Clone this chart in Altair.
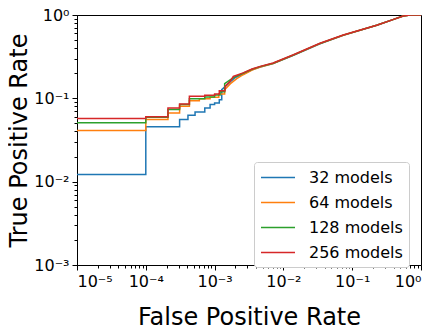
import altair as alt
import pandas as pd

models = ["32 models", "64 models", "128 models", "256 models"]
colors = ["#1f77b4", "#ff7f0e", "#2ca02c", "#d62728"]

fpr_32 = [1e-5, 1.0e-4, 1.0e-4, 3.1e-4, 3.1e-4, 4.1e-4, 4.1e-4, 5.2e-4, 5.2e-4, 7.2e-4, 7.2e-4,
          8.6e-4, 8.6e-4, 1.0e-3, 1.0e-3, 1.17e-3, 1.17e-3, 1.27e-3, 1.27e-3, 1.45e-3, 1.7e-3,
          2.0e-3, 2.6e-3, 3.5e-3, 4.6e-3, 7.1e-3, 1.4e-2, 3.4e-2, 7.4e-2, 0.227, 0.40, 0.55, 0.70, 1.0]
tpr_32 = [0.0122, 0.0122, 0.0456, 0.0456, 0.0557, 0.0557, 0.0628, 0.0628, 0.0687, 0.0687, 0.0767,
          0.0767, 0.0841, 0.0841, 0.0879, 0.0879, 0.0964, 0.0964, 0.127, 0.140, 0.158,
          0.178, 0.196, 0.220, 0.238, 0.262, 0.328, 0.452, 0.570, 0.752, 0.887, 0.97, 1.0, 1.0]

fpr_64 = [1e-5, 1e-4, 1e-4, 2.1e-4, 2.1e-4, 3.1e-4, 3.1e-4, 4.3e-4, 4.3e-4, 6.0e-4, 6.0e-4,
          8.6e-4, 8.6e-4, 1.15e-3, 1.15e-3, 1.4e-3, 1.4e-3, 1.7e-3, 2.1e-3, 2.6e-3, 3.5e-3,
          4.6e-3, 7.1e-3, 1.4e-2, 3.4e-2, 7.4e-2, 0.227, 0.40, 0.55, 0.70, 1.0]
tpr_64 = [0.0412, 0.0412, 0.0557, 0.0557, 0.0668, 0.0668, 0.0803, 0.0803, 0.0937, 0.0937, 0.099,
          0.099, 0.103, 0.103, 0.113, 0.113, 0.127, 0.150, 0.172, 0.192, 0.218,
          0.238, 0.262, 0.33, 0.454, 0.572, 0.753, 0.887, 0.97, 1.0, 1.0]

fpr_128 = [1e-5, 1e-4, 1e-4, 2.1e-4, 2.1e-4, 3.1e-4, 3.1e-4, 4.3e-4, 4.3e-4, 7.2e-4, 7.2e-4,
           1.0e-3, 1.0e-3, 1.2e-3, 1.2e-3, 1.4e-3, 1.4e-3, 1.7e-3, 2.0e-3, 2.6e-3, 3.5e-3,
           4.6e-3, 7.1e-3, 1.4e-2, 3.4e-2, 7.4e-2, 0.227, 0.40, 0.55, 0.70, 1.0]
tpr_128 = [0.0508, 0.0508, 0.0594, 0.0594, 0.0733, 0.0733, 0.0841, 0.0841, 0.099, 0.099, 0.104,
           0.104, 0.110, 0.110, 0.120, 0.120, 0.150, 0.168, 0.182, 0.200, 0.223,
           0.240, 0.264, 0.331, 0.456, 0.573, 0.754, 0.887, 0.97, 1.0, 1.0]

fpr_256 = [1e-5, 1e-4, 1e-4, 2.1e-4, 2.1e-4, 3.1e-4, 3.1e-4, 4.3e-4, 4.3e-4, 7.2e-4, 7.2e-4,
           1.0e-3, 1.0e-3, 1.17e-3, 1.17e-3, 1.42e-3, 1.42e-3, 1.67e-3, 1.87e-3, 2.6e-3, 3.5e-3,
           4.6e-3, 7.1e-3, 1.4e-2, 3.4e-2, 7.4e-2, 0.227, 0.40, 0.55, 0.70, 1.0]
tpr_256 = [0.0573, 0.0573, 0.0600, 0.0600, 0.0767, 0.0767, 0.0857, 0.0857, 0.106, 0.106, 0.109,
           0.109, 0.113, 0.113, 0.123, 0.123, 0.139, 0.159, 0.183, 0.202, 0.225,
           0.242, 0.266, 0.333, 0.458, 0.575, 0.755, 0.887, 0.97, 1.0, 1.0]

x_labels = ["10⁻⁵", "10⁻⁴", "10⁻³", "10⁻²", "10⁻¹", "10⁰"]
y_labels = ["10⁻³", "10⁻²", "10⁻¹", "10⁰"]

series = [(fpr_32, tpr_32), (fpr_64, tpr_64), (fpr_128, tpr_128), (fpr_256, tpr_256)]
rows = []
for name, (fx, ty) in zip(models, series):
    for i, (a, b) in enumerate(zip(fx, ty)):
        rows.append({"fpr": a, "tpr": b, "model": name, "idx": i})
df = pd.DataFrame(rows)


def log_ticks(lo, hi):
    vals = []
    for e in range(lo, hi):
        for m in range(1, 10):
            vals.append(m * 10.0 ** e)
    vals.append(10.0 ** hi)
    return vals


is_major = "abs(log(datum.value)/LN10 - round(log(datum.value)/LN10)) < 0.001"


def label_expr(labels, off):
    arr = "[" + ",".join("'" + s + "'" for s in labels) + "]"
    return f"{is_major} ? {arr}[round(log(datum.value)/LN10)+{off}] : ''"


font = "DejaVu Sans"

chart = alt.Chart(df).mark_line(strokeWidth=1.5, clip=True).encode(
    x=alt.X("fpr:Q", scale=alt.Scale(type="log", domain=[1e-5, 1]),
            axis=alt.Axis(title="False Positive Rate", values=log_ticks(-5, 0),
                          labelExpr=label_expr(x_labels, 5),
                          tickSize={"condition": {"test": is_major, "value": 5}, "value": 3},
                          grid=False, titlePadding=16, labelPadding=3)),
    y=alt.Y("tpr:Q", scale=alt.Scale(type="log", domain=[1e-3, 1]),
            axis=alt.Axis(title="True Positive Rate", values=log_ticks(-3, 0),
                          labelExpr=label_expr(y_labels, 3),
                          tickSize={"condition": {"test": is_major, "value": 5}, "value": 3},
                          grid=False, titlePadding=2, labelPadding=3)),
    color=alt.Color("model:N", sort=models,
                    scale=alt.Scale(domain=models, range=colors),
                    legend=alt.Legend(title=None, orient="none", legendX=177, legendY=147,
                                      symbolType="M-1,0L3,0", symbolSize=289,
                                      symbolStrokeWidth=1.5, labelFontSize=16,
                                      labelFont=font, labelOffset=30,
                                      padding=6, rowPadding=7,
                                      fillColor="white", strokeColor="#cccccc",
                                      cornerRadius=3)),
    order="idx:Q",
).properties(
    width=344, height=250,
    autosize=alt.AutoSizeParams(type="none"),
    padding={"left": 69, "top": 7, "right": 10, "bottom": 70},
).configure_view(
    stroke="black", strokeWidth=1
).configure_axis(
    domainColor="black", tickColor="black", labelColor="black", titleColor="black",
    labelFont=font, titleFont=font, labelFontSize=16, titleFontSize=24,
    titleFontWeight="normal", domainWidth=1, tickWidth=1,
)

chart.save("out.html", embed_options={"renderer": "svg", "actions": False})
